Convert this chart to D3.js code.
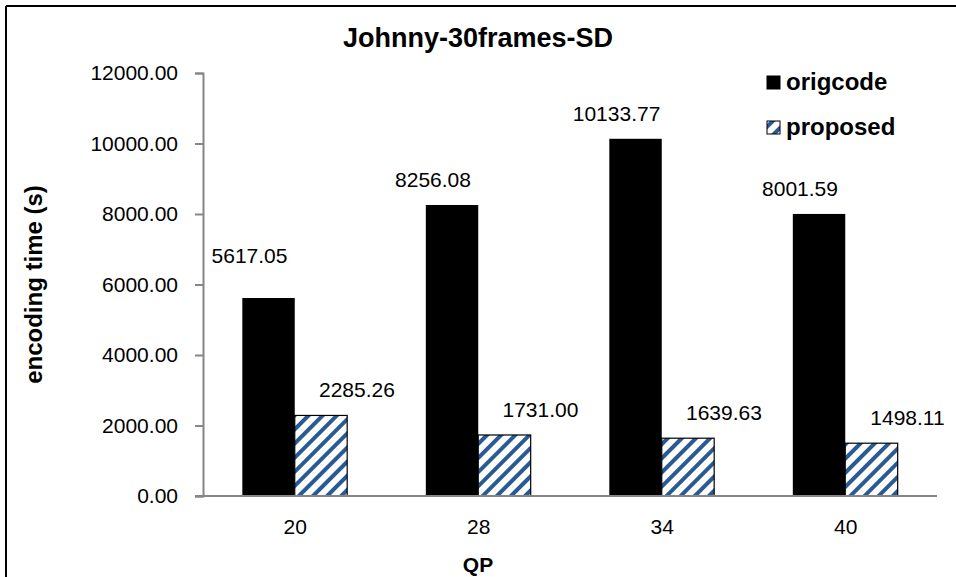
<!DOCTYPE html>
<html>
<head>
<meta charset="utf-8">
<script src="https://d3js.org/d3.v7.min.js"></script>
<style>
  html, body { margin: 0; padding: 0; background: #fff; }
  svg { display: block; }
  text { font-family: Arial, "Liberation Sans", sans-serif; }
</style>
</head>
<body>
<svg id="chart" width="956" height="577"></svg>
<script>
const categories = ["20", "28", "34", "40"];
const seriesNames = ["origcode", "proposed"];
const origcode = [5617.05, 8256.08, 10133.77, 8001.59];
const proposed = [2285.26, 1731.00, 1639.63, 1498.11];
const yTicks = [0, 2000, 4000, 6000, 8000, 10000, 12000];
const title = "Johnny-30frames-SD";
const xTitle = "QP";
const yTitle = "encoding time (s)";

const svg = d3.select("#chart");
const W = 956, H = 577;
const margin = { left: 203, right: 19, top: 73, bottom: 81 };
const FF = "Arial, 'Liberation Sans', sans-serif";

// pattern
const defs = svg.append("defs");
const pat = defs.append("pattern")
  .attr("id", "hatch")
  .attr("patternUnits", "userSpaceOnUse")
  .attr("width", 10).attr("height", 10)
  .attr("patternTransform", "rotate(45)");
pat.append("rect").attr("width", 10).attr("height", 10).attr("fill", "#fff");
pat.append("rect").attr("x", 0).attr("y", 0).attr("width", 4).attr("height", 10).attr("fill", "#2a5a94");

// frame
svg.append("line").attr("x1", 6).attr("x2", W).attr("y1", 6).attr("y2", 6)
  .attr("stroke", "#000").attr("stroke-width", 2);
svg.append("line").attr("x1", 6).attr("x2", 6).attr("y1", 6).attr("y2", H)
  .attr("stroke", "#000").attr("stroke-width", 2);

// Excel style: gap width 150% -> each category step holds 2 bars + 1.5 bar of gap
const step = (W - margin.right - margin.left) / categories.length;
const barW = step / 3.5;
const xc = d3.scalePoint().domain(categories)
  .range([margin.left + step / 2, W - margin.right - step / 2]);
const y = d3.scaleLinear().domain([0, 12000]).range([H - margin.bottom, margin.top]);

const data = categories.map((c, i) => ({ c, i, o: origcode[i], p: proposed[i] }));

// bars
const g = svg.append("g");
g.selectAll("rect.o").data(data).enter().append("rect")
  .attr("class", "o")
  .attr("x", d => xc(d.c) - barW)
  .attr("y", d => y(d.o))
  .attr("width", barW)
  .attr("height", d => y(0) - y(d.o))
  .attr("fill", "#000");
g.selectAll("rect.p").data(data).enter().append("rect")
  .attr("class", "p")
  .attr("x", d => xc(d.c))
  .attr("y", d => y(d.p))
  .attr("width", barW)
  .attr("height", d => y(0) - y(d.p))
  .attr("fill", "url(#hatch)")
  .attr("stroke", "#000").attr("stroke-width", 1.2);

// labels
g.selectAll("text.lo").data(data).enter().append("text")
  .attr("x", d => xc(d.c) - barW / 2 - 19)
  .attr("y", d => y(d.o) - (d.i === 0 ? 35 : 18))
  .attr("text-anchor", "middle")
  .attr("font-size", 21).attr("fill", "#000")
  .text(d => d.o.toFixed(2));
g.selectAll("text.lp").data(data).enter().append("text")
  .attr("x", d => xc(d.c) + barW / 2 + 36)
  .attr("y", d => y(d.p) - 18)
  .attr("text-anchor", "middle")
  .attr("font-size", 21).attr("fill", "#000")
  .text(d => d.p.toFixed(2));

// y axis
const yAxis = d3.axisLeft(y).tickValues(yTicks).tickFormat(d => d3.format(".2f")(d))
  .tickSizeOuter(0).tickSize(8).tickPadding(17);
const ya = svg.append("g").attr("transform", `translate(${margin.left},0)`).call(yAxis);
ya.select(".domain").attr("stroke", "#868686").attr("stroke-width", 2);
ya.selectAll(".tick line").attr("stroke", "#868686").attr("stroke-width", 2);
ya.selectAll(".tick text").attr("font-size", 21).attr("fill", "#000")
  .attr("font-family", FF);

// x axis
const xAxis = d3.axisBottom(xc).tickSize(0).tickPadding(23);
const xa = svg.append("g").attr("transform", `translate(0,${y(0)})`).call(xAxis);
xa.select(".domain").attr("d", `M${margin.left - 8},0H${W - margin.right}`)
  .attr("stroke", "#868686").attr("stroke-width", 2);
xa.selectAll(".tick text").attr("font-size", 21).attr("fill", "#000")
  .attr("font-family", FF);

// titles
svg.append("text").attr("x", 478).attr("y", 47).attr("text-anchor", "middle")
  .attr("font-size", 27).attr("font-weight", "bold").text(title);
svg.append("text").attr("x", 478).attr("y", 572).attr("text-anchor", "middle")
  .attr("font-size", 21).attr("font-weight", "bold").text(xTitle);
svg.append("text").attr("transform", `translate(42,${(y(0) + y(12000)) / 2}) rotate(-90)`)
  .attr("text-anchor", "middle")
  .attr("font-size", 24).attr("font-weight", "bold").text(yTitle);

// legend
const lg = svg.append("g");
const fills = ["#000", "url(#hatch)"];
seriesNames.forEach((s, i) => {
  const ly = 82 + i * 45;
  lg.append("rect").attr("x", 767).attr("y", ly - 6).attr("width", 13).attr("height", 13)
    .attr("fill", fills[i]).attr("stroke", "#000").attr("stroke-width", 1);
  lg.append("text").attr("x", 786).attr("y", ly + 8)
    .attr("font-size", 24).attr("font-weight", "bold").text(s);
});
</script>
</body>
</html>
